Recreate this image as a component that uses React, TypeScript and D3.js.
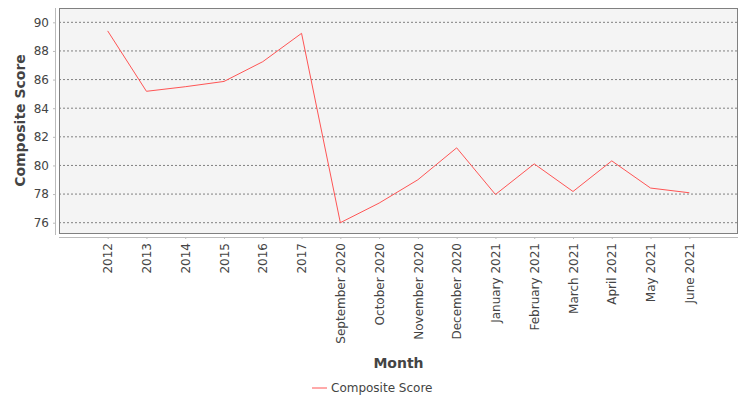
import React, { useEffect, useRef } from "react";
import * as d3 from "d3";

// categories along the x axis
const months = [
  "2012", "2013", "2014", "2015", "2016", "2017",
  "September 2020", "October 2020", "November 2020", "December 2020",
  "January 2021", "February 2021", "March 2021", "April 2021", "May 2021", "June 2021",
];

// composite score per category
const scores = [
  89.4, 85.18, 85.5, 85.87, 87.25, 89.23,
  76.0, 77.37, 79.0, 81.23,
  77.97, 80.11, 78.18, 80.32, 78.42, 78.09,
];

const yTicks = [76, 78, 80, 82, 84, 86, 88, 90];

const seriesName = "Composite Score";

const App: React.FC = () => {
  const svgRef = useRef<SVGSVGElement>(null);

  useEffect(() => {
    if (!svgRef.current) return;
    const svg = d3.select(svgRef.current);
    svg.selectAll("*").remove();

    const width = 750;
    const height = 400;
    const plot = { left: 59, top: 8, right: 738, bottom: 233 };
    const font = "'DejaVu Sans', sans-serif";
    const lineColor = "#ff5555";

    svg.append("rect").attr("width", width).attr("height", height).attr("fill", "#fff");

    const x = d3
      .scalePoint<string>()
      .domain(months)
      .range([plot.left, plot.right])
      .padding(1.255);

    const y = d3.scaleLinear().domain([75.28, 91.0]).range([plot.bottom, plot.top]);

    // plot background
    svg
      .append("rect")
      .attr("x", plot.left)
      .attr("y", plot.top)
      .attr("width", plot.right - plot.left)
      .attr("height", plot.bottom - plot.top)
      .attr("fill", "#f4f4f4");

    // gridlines
    svg
      .append("g")
      .selectAll("line")
      .data(yTicks)
      .join("line")
      .attr("x1", plot.left)
      .attr("x2", plot.right)
      .attr("y1", (d) => y(d))
      .attr("y2", (d) => y(d))
      .attr("stroke", "#808080")
      .attr("stroke-width", 1)
      .attr("stroke-dasharray", "2,2");

    // plot border
    svg
      .append("rect")
      .attr("x", plot.left + 0.5)
      .attr("y", plot.top + 0.5)
      .attr("width", plot.right - plot.left - 1)
      .attr("height", plot.bottom - plot.top)
      .attr("fill", "none")
      .attr("stroke", "#808080");

    // y axis
    const yAxis = svg
      .append("g")
      .attr("transform", `translate(${plot.left - 4},0)`)
      .call(d3.axisLeft(y).tickValues(yTicks).tickSize(2).tickPadding(4).tickSizeOuter(0));
    yAxis.select(".domain").attr("stroke", "#bbb").attr("d", `M0.5,${plot.top}V${plot.bottom + 2}`);
    yAxis.selectAll(".tick line").attr("stroke", "#bbb");
    yAxis
      .selectAll("text")
      .attr("fill", "#444")
      .style("font-family", font)
      .style("font-size", "12px");

    // x axis
    const xAxis = svg
      .append("g")
      .attr("transform", `translate(0,${plot.bottom + 4})`)
      .call(d3.axisBottom(x).tickSize(2).tickSizeOuter(0));
    xAxis.select(".domain").attr("stroke", "#bbb").attr("d", `M${plot.left},0.5H${plot.right}`);
    xAxis.selectAll(".tick line").attr("stroke", "#bbb");
    xAxis
      .selectAll("text")
      .attr("fill", "#444")
      .style("font-family", font)
      .style("font-size", "12px")
      .style("text-anchor", "end")
      .attr("transform", "rotate(-90)")
      .attr("x", -6)
      .attr("y", 0)
      .attr("dy", "0.35em");

    // series line
    const line = d3
      .line<number>()
      .x((_, i) => x(months[i]) as number)
      .y((d) => y(d));
    svg
      .append("path")
      .datum(scores)
      .attr("d", line)
      .attr("fill", "none")
      .attr("stroke", lineColor)
      .attr("stroke-width", 1);

    // axis titles
    svg
      .append("text")
      .attr("transform", `translate(25,${(plot.top + plot.bottom) / 2}) rotate(-90)`)
      .attr("text-anchor", "middle")
      .style("font-family", font)
      .style("font-size", "14px")
      .style("font-weight", "bold")
      .attr("fill", "#444")
      .text("Composite Score");

    svg
      .append("text")
      .attr("x", (plot.left + plot.right) / 2)
      .attr("y", 368)
      .attr("text-anchor", "middle")
      .style("font-family", font)
      .style("font-size", "14px")
      .style("font-weight", "bold")
      .attr("fill", "#444")
      .text("Month");

    // legend
    const legend = svg.append("g").attr("transform", "translate(312,388)");
    legend
      .append("line")
      .attr("x1", 0)
      .attr("x2", 15)
      .attr("y1", 0)
      .attr("y2", 0)
      .attr("stroke", lineColor);
    legend
      .append("text")
      .attr("x", 19)
      .attr("y", 0)
      .attr("dy", "0.35em")
      .style("font-family", font)
      .style("font-size", "12px")
      .attr("fill", "#444")
      .text(seriesName);
  }, []);

  return (
    <svg
      ref={svgRef}
      width={750}
      height={400}
      style={{ position: "absolute", left: 0, top: 0, display: "block" }}
    />
  );
};

export default App;
